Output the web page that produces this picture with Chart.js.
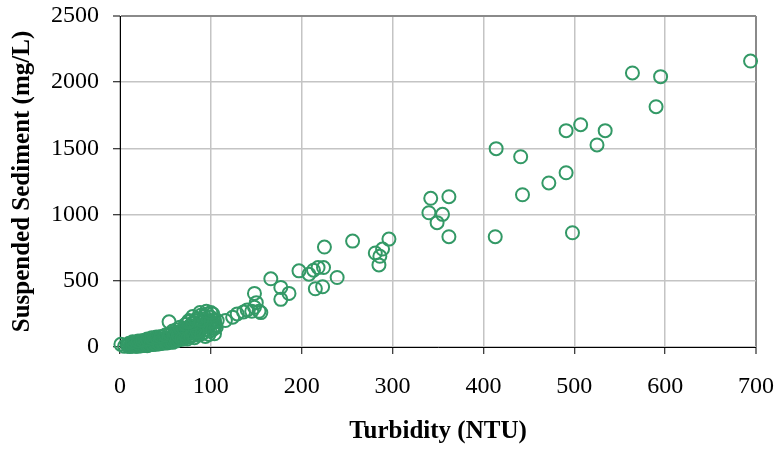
<!DOCTYPE html>
<html>
<head>
<meta charset="utf-8">
<script src="https://cdn.jsdelivr.net/npm/chart.js@4/dist/chart.umd.min.js"></script>
<style>
  html, body { margin: 0; padding: 0; background: #ffffff; }
  #wrap { width: 778px; height: 449px; }
</style>
</head>
<body>
<div id="wrap"><canvas id="c" width="778" height="449"></canvas></div>
<script>
// ---- Data ----
// Turbidity (NTU) values, low cluster (0-60 NTU)
const turbidityLow = [1, 8, 10, 12, 13, 15, 16, 17, 18, 19, 20, 21, 22, 23, 24, 25, 26, 27, 28, 29, 30, 31, 32, 33, 34, 35, 36, 37, 38, 39, 40, 41, 42, 44, 45, 46, 47, 48, 50, 51, 52, 54, 54, 55, 56, 57, 58, 59, 60,
  5, 9, 11, 14, 16, 18, 20, 22, 24, 26, 28, 30, 32, 34, 36, 38, 40, 42, 44, 46, 48, 50, 52, 55, 58, 60, 14, 20, 25, 30, 35, 40, 45, 50, 55, 58];
const sedimentLow  = [20, 15, 28, 10, 22, 30, 14, 25, 35, 18, 28, 12, 40, 22, 32, 18, 45, 28, 15, 38, 25, 50, 32, 20, 42, 30, 55, 25, 45, 35, 60, 30, 48, 40, 62, 35, 52, 45, 68, 40, 55, 190, 48, 70, 38, 60, 85, 50, 75,
  5, 8, 3, 12, 5, 8, 5, 15, 10, 12, 30, 10, 15, 22, 18, 28, 20, 30, 25, 30, 28, 35, 30, 40, 35, 45, 40, 45, 50, 60, 70, 75, 80, 90, 100, 120];

// 60-107 NTU cluster
const turbidityMid = [61, 62, 63, 64, 65, 66, 67, 68, 69, 70, 71, 72, 73, 74, 75, 76, 77, 78, 79, 80, 81, 82, 83, 84, 85, 86, 87, 88, 89, 90, 91, 92, 93, 94, 95, 96, 97, 98, 99, 100, 101, 102, 103, 104, 105,
  62, 64, 66, 68, 70, 72, 74, 76, 78, 80, 82, 84, 86, 88, 90, 92, 94, 96, 98, 100, 102, 104, 106, 107, 80, 85, 90, 95, 100, 75];
const sedimentMid  = [95, 45, 65, 110, 55, 85, 70, 120, 95, 60, 105, 80, 140, 95, 120, 75, 160, 110, 135, 90, 185, 125, 150, 100, 215, 140, 170, 120, 240, 155, 195, 110, 230, 175, 135, 250, 200, 160, 120, 225, 185, 250, 145, 200, 165,
  130, 90, 150, 60, 140, 170, 60, 200, 80, 230, 70, 200, 90, 260, 100, 210, 80, 180, 95, 190, 130, 100, 150, 200, 180, 120, 200, 270, 260, 190];

// 105-300 NTU
const turbidityUpper = [116, 124, 129, 136, 140, 145, 148, 150, 148, 153, 155, 166, 177, 186, 177, 197, 208, 213, 218, 224, 239, 215, 223, 225, 256, 296, 289, 281, 286, 285];
const sedimentUpper  = [200, 225, 250, 265, 280, 270, 300, 335, 405, 270, 260, 515, 450, 405, 360, 575, 550, 580, 600, 600, 525, 440, 455, 755, 800, 815, 740, 710, 685, 620];

// Above 300 NTU
const turbidityHigh = [694, 564, 595, 590, 507, 491, 534, 525, 414, 441, 491, 472, 443, 498, 413, 362, 342, 340, 355, 349, 362];
const sedimentHigh  = [2160, 2070, 2042, 1815, 1679, 1634, 1634, 1526, 1498, 1437, 1316, 1239, 1150, 863, 833, 1135, 1123, 1014, 1002, 939, 833];

// Axis tick labels
const xTicks = [0, 100, 200, 300, 400, 500, 600, 700];
const yTicks = [0, 500, 1000, 1500, 2000, 2500];
const xTitle = 'Turbidity (NTU)';
const yTitle = 'Suspended Sediment (mg/L)';

// ---- Build points ----
const turbidity = [].concat(turbidityLow, turbidityMid, turbidityUpper, turbidityHigh);
const sediment  = [].concat(sedimentLow, sedimentMid, sedimentUpper, sedimentHigh);
const points = turbidity.map((x, i) => ({ x: x, y: sediment[i] }));

const GREEN = '#339966';
const GRID = '#c4c4c4';
const FRAME = '#8a8a8a';
const SERIF = "'Liberation Serif', 'Times New Roman', serif";

function zeroPad(s) { s.paddingLeft = 0; s.paddingRight = 0; s.paddingTop = 0; s.paddingBottom = 0; }

new Chart(document.getElementById('c'), {
  type: 'scatter',
  data: {
    datasets: [{
      data: points,
      borderColor: GREEN,
      backgroundColor: 'rgba(0,0,0,0)',
      borderWidth: 2,
      pointRadius: 6.5,
      pointHoverRadius: 6.5,
      clip: false
    }]
  },
  options: {
    responsive: false,
    animation: false,
    devicePixelRatio: 1,
    layout: { padding: { left: 0, right: 22, top: 16, bottom: 0 } },
    plugins: { legend: { display: false }, tooltip: { enabled: false } },
    scales: {
      x: {
        type: 'linear',
        min: xTicks[0],
        max: xTicks[xTicks.length - 1],
        afterBuildTicks: s => { s.ticks = xTicks.map(v => ({ value: v })); },
        afterFit: s => { s.height = 102; zeroPad(s); },
        ticks: {
          color: '#000',
          font: { family: SERIF, size: 24 },
          padding: 18,
          maxRotation: 0,
          callback: v => String(v)
        },
        grid: {
          color: c => (c.tick && c.tick.value === 700) ? FRAME : GRID,
          lineWidth: c => (c.tick && c.tick.value === 700) ? 2 : 1.5,
          tickColor: '#000',
          tickLength: 7,
          tickWidth: 1
        },
        border: { color: '#000', width: 1 },
        title: {
          display: true,
          text: xTitle,
          color: '#000',
          font: { family: SERIF, size: 25, weight: 'bold', lineHeight: 1 },
          padding: { top: 0, bottom: 5 }
        }
      },
      y: {
        type: 'linear',
        min: yTicks[0],
        max: yTicks[yTicks.length - 1],
        afterBuildTicks: s => { s.ticks = yTicks.map(v => ({ value: v })); },
        afterFit: s => { s.width = 120; zeroPad(s); },
        ticks: {
          color: '#000',
          font: { family: SERIF, size: 24 },
          padding: 14,
          callback: v => String(v)
        },
        grid: {
          color: c => (c.tick && c.tick.value === 2500) ? FRAME : GRID,
          lineWidth: c => (c.tick && c.tick.value === 2500) ? 2 : 1.5,
          tickColor: '#000',
          tickLength: 7,
          tickWidth: 1
        },
        border: { color: '#000', width: 1 },
        title: {
          display: true,
          text: yTitle,
          color: '#000',
          font: { family: SERIF, size: 25, weight: 'bold', lineHeight: 1 },
          padding: { top: 10, bottom: 0 }
        }
      }
    }
  }
});
</script>
</body>
</html>
